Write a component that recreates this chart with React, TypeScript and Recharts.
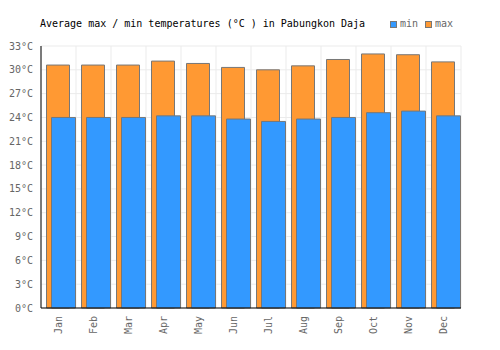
import React from 'react';
import { BarChart, Bar, XAxis, YAxis, CartesianGrid, Rectangle } from 'recharts';

const months = ['Jan', 'Feb', 'Mar', 'Apr', 'May', 'Jun', 'Jul', 'Aug', 'Sep', 'Oct', 'Nov', 'Dec'];
const maxTemps = [30.6, 30.6, 30.6, 31.1, 30.8, 30.3, 30.0, 30.5, 31.3, 32.0, 31.9, 31.0];
const minTemps = [24.0, 24.0, 24.0, 24.2, 24.2, 23.8, 23.5, 23.8, 24.0, 24.6, 24.8, 24.2];
const yTicks = [0, 3, 6, 9, 12, 15, 18, 21, 24, 27, 30, 33];
const gridTicks = [0, 1, 2, 3, 4, 5, 6, 7, 8, 9, 10, 11, 12];
const legendItems = [
  { name: 'min', color: '#3399FF' },
  { name: 'max', color: '#FF9933' },
];
const title = 'Average max / min temperatures (°C ) in Pabungkon Daja';

const data = months.map((m, i) => ({ month: m, idx: i + 0.5, max: maxTemps[i], min: minTemps[i] }));

const FONT = '"DejaVu Sans Mono", monospace';

const XTick = (props: any) => {
  const { x, y, payload } = props;
  return (
    <g transform={`translate(${x},${y})`}>
      <text
        x={0}
        y={0}
        dy={3.5}
        textAnchor="end"
        transform="rotate(-90)"
        fill="#666"
        fontSize={10}
        fontFamily={FONT}
      >
        {payload.value}
      </text>
    </g>
  );
};

const ShiftedBar = (props: any) => <Rectangle {...props} x={props.x + 2.5} />;

export default function App() {
  return (
    <div style={{ position: 'absolute', left: 0, top: 0, width: 500, height: 350 }}>
      <div
        style={{
          position: 'absolute',
          left: 40,
          top: 18,
          fontFamily: FONT,
          fontSize: 10,
          lineHeight: '12px',
          color: '#000',
          whiteSpace: 'pre',
          zIndex: 2,
        }}
      >
        {title}
      </div>
      <div
        style={{
          position: 'absolute',
          left: 390,
          top: 18,
          display: 'flex',
          alignItems: 'center',
          fontFamily: FONT,
          fontSize: 10,
          lineHeight: '12px',
          color: '#666',
          zIndex: 2,
        }}
      >
        {legendItems.map((it) => (
          <div key={it.name} style={{ display: 'flex', alignItems: 'center', marginRight: 7 }}>
            <span
              style={{
                display: 'inline-block',
                width: 5,
                height: 5,
                background: it.color,
                border: '1px solid #777',
                marginRight: 3,
              }}
            />
            <span>{it.name}</span>
          </div>
        ))}
      </div>
      <BarChart
        width={500}
        height={350}
        data={data}
        margin={{ top: 46, right: 39, bottom: 0, left: 0 }}
        barGap={-18}
      >
        <CartesianGrid stroke="#ebebeb" xAxisId="grid" />
        <XAxis
          xAxisId="grid"
          type="number"
          dataKey="idx"
          domain={[0, 12]}
          ticks={gridTicks}
          hide
        />
        <XAxis
          dataKey="month"
          tick={<XTick />}
          tickLine={false}
          axisLine={{ stroke: '#000' }}
          interval={0}
          height={42}
        />
        <YAxis
          width={41}
          domain={[0, 33]}
          ticks={yTicks}
          interval={0}
          tickLine={false}
          axisLine={{ stroke: '#000' }}
          tickFormatter={(v: number) => `${v}°C`}
          tick={{ fill: '#666', fontSize: 10, fontFamily: FONT }}
        />
        <Bar
          dataKey="max"
          fill="#FF9933"
          stroke="#777"
          strokeWidth={1}
          barSize={23}
          shape={<ShiftedBar />}
          isAnimationActive={false}
        />
        <Bar
          dataKey="min"
          fill="#3399FF"
          stroke="#777"
          strokeWidth={1}
          barSize={24}
          shape={<ShiftedBar />}
          isAnimationActive={false}
        />
      </BarChart>
    </div>
  );
}
